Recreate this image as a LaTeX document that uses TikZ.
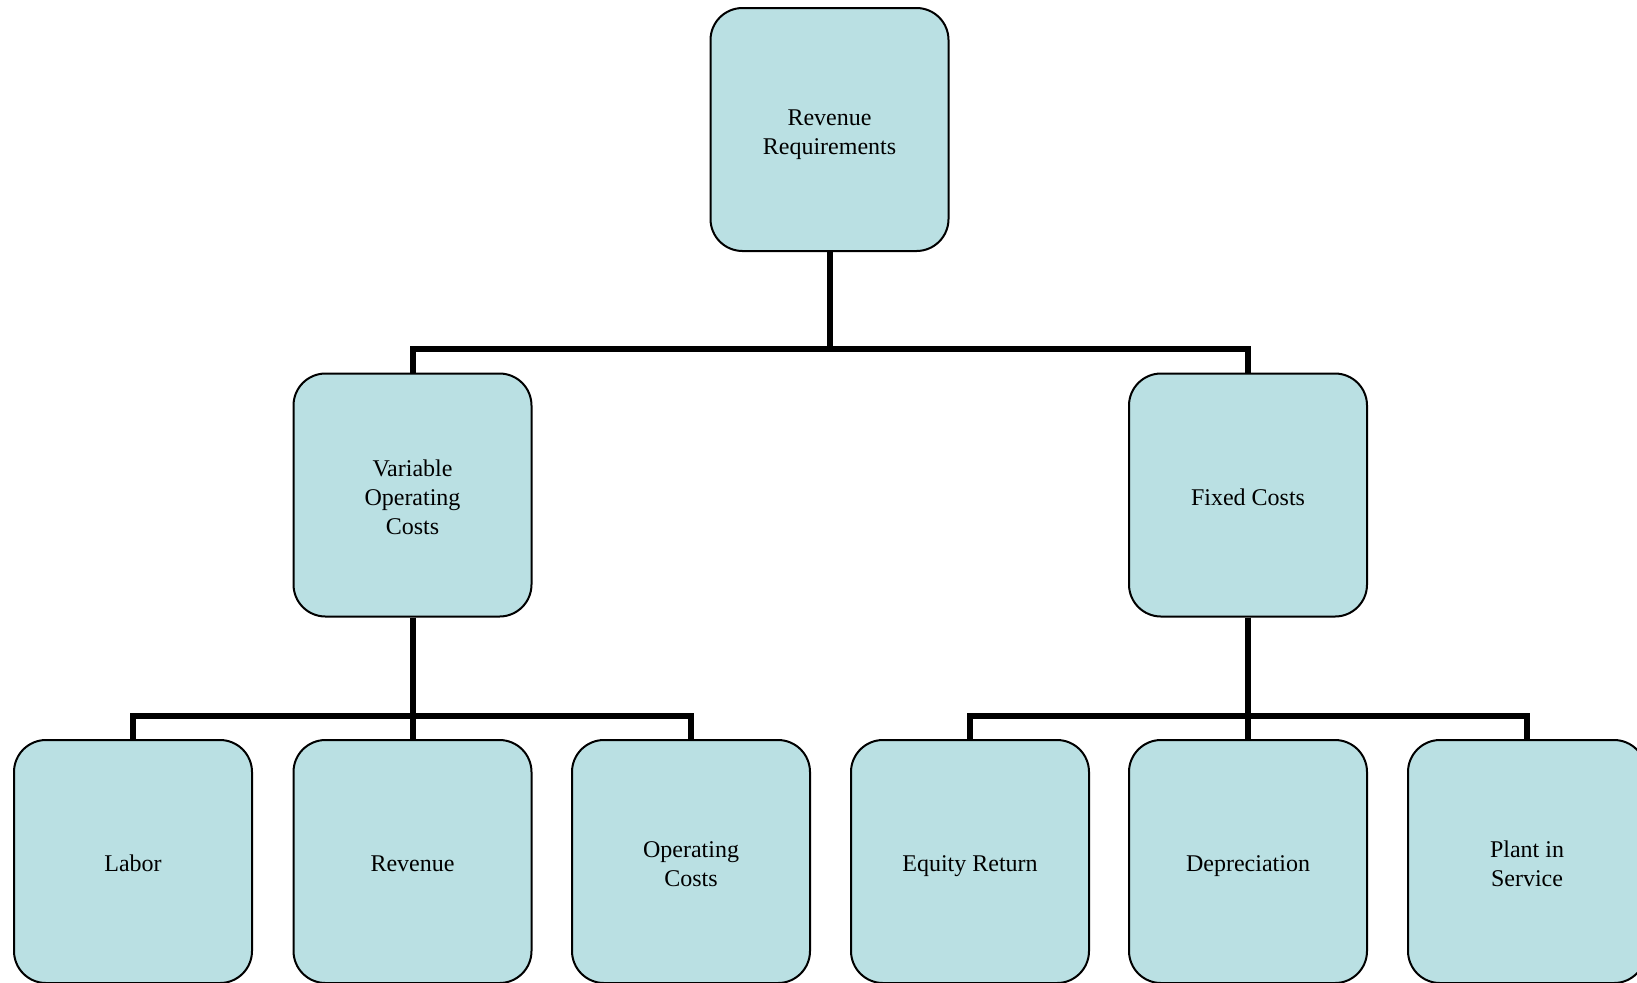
\documentclass[tikz,border=0pt]{standalone}
\usepackage{fontspec}
\setmainfont{Liberation Serif}
\usepackage{xcolor}
\definecolor{boxfill}{RGB}{186,224,227}
\newcommand{\boxlines}[1]{\raisebox{-2.2pt}[\height][\depth]{\begin{tabular}{@{}c@{}}#1\end{tabular}}}

\begin{document}
\begin{tikzpicture}[x=0.5pt,y=-0.5pt,line join=miter,
    costbox/.style={draw=black,line width=1pt,fill=boxfill,rounded corners=16pt,
      minimum width=119pt,minimum height=121.5pt,inner sep=2pt,
      font=\fontsize{12}{14.5}\selectfont},
    link/.style={line width=3pt}]
  \useasboundingbox (0,0) rectangle (1637,982);
  % top level
  \node[costbox] (rev) at (829.5,129.5) {\boxlines{Revenue\\Requirements}};
  % second level
  \node[costbox] (var) at (412.5,495) {\boxlines{Variable\\Operating\\Costs}};
  \node[costbox] (fix) at (1248,495) {\boxlines{Fixed Costs}};
  % third level
  \node[costbox] (lab) at (133,861.5) {\boxlines{Labor}};
  \node[costbox] (rvn) at (412.5,861.5) {\boxlines{Revenue}};
  \node[costbox] (opc) at (691,861.5) {\boxlines{Operating\\Costs}};
  \node[costbox] (eqr) at (970,861.5) {\boxlines{Equity Return}};
  \node[costbox] (dep) at (1248,861.5) {\boxlines{Depreciation}};
  \node[costbox] (pis) at (1527,861.5) {\boxlines{Plant in\\Service}};
  % bus levels
  \coordinate (busA) at (0,348.5);
  \coordinate (busB) at (0,715.5);
  \draw[link] (rev.south) -- (rev.south |- busA) -| (var.north);
  \draw[link] (rev.south) -- (rev.south |- busA) -| (fix.north);
  \draw[link] (var.south) -- (var.south |- busB) -| (lab.north);
  \draw[link] (var.south) -- (rvn.north);
  \draw[link] (var.south) -- (var.south |- busB) -| (opc.north);
  \draw[link] (fix.south) -- (fix.south |- busB) -| (eqr.north);
  \draw[link] (fix.south) -- (dep.north);
  \draw[link] (fix.south) -- (fix.south |- busB) -| (pis.north);
\end{tikzpicture}
\end{document}
